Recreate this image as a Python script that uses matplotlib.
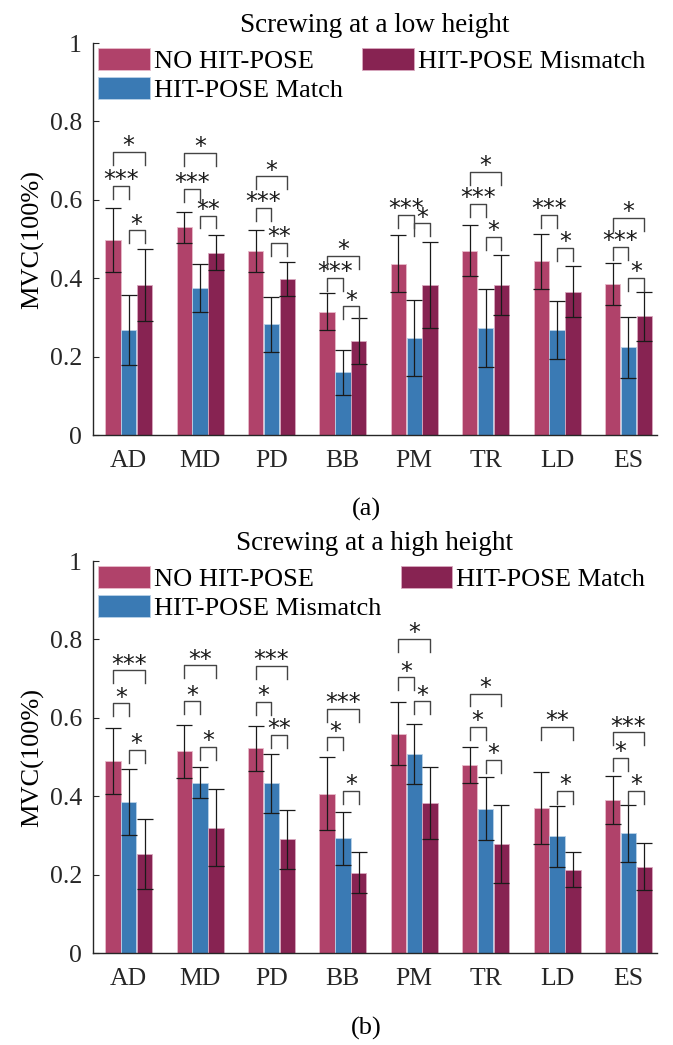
import numpy as np
import matplotlib.pyplot as plt

plt.rcParams['font.family'] = ['Liberation Serif', 'DejaVu Serif']

muscles = ['AD', 'MD', 'PD', 'BB', 'PM', 'TR', 'LD', 'ES']

# (a) screwing at a low height
low_no = [0.497, 0.530, 0.470, 0.315, 0.437, 0.470, 0.443, 0.385]
low_no_sd = [0.082, 0.040, 0.053, 0.047, 0.073, 0.065, 0.070, 0.054]
low_match = [0.268, 0.375, 0.283, 0.160, 0.248, 0.273, 0.268, 0.224]
low_match_sd = [0.090, 0.061, 0.070, 0.057, 0.097, 0.100, 0.075, 0.078]
low_mis = [0.383, 0.465, 0.398, 0.240, 0.383, 0.383, 0.366, 0.303]
low_mis_sd = [0.092, 0.045, 0.043, 0.058, 0.109, 0.077, 0.065, 0.063]

# (b) screwing at a high height
high_no = [0.490, 0.515, 0.522, 0.407, 0.560, 0.480, 0.370, 0.390]
high_no_sd = [0.085, 0.068, 0.057, 0.093, 0.080, 0.045, 0.093, 0.062]
high_mis = [0.385, 0.435, 0.433, 0.293, 0.508, 0.368, 0.298, 0.305]
high_mis_sd = [0.085, 0.040, 0.075, 0.068, 0.077, 0.080, 0.078, 0.073]
high_match = [0.253, 0.320, 0.290, 0.205, 0.383, 0.278, 0.213, 0.220]
high_match_sd = [0.090, 0.098, 0.075, 0.052, 0.092, 0.100, 0.045, 0.060]

# significance brackets: (muscle, bar a, bar b, bracket height, stars)
sig_low = [(0, 0, 1, 0.636, '***'), (0, 0, 2, 0.722, '*'), (0, 1, 2, 0.522, '*'),
           (1, 0, 1, 0.628, '***'), (1, 0, 2, 0.720, '*'), (1, 1, 2, 0.560, '**'),
           (2, 0, 1, 0.580, '***'), (2, 0, 2, 0.660, '*'), (2, 1, 2, 0.490, '**'),
           (3, 0, 1, 0.400, '***'), (3, 0, 2, 0.457, '*'), (3, 1, 2, 0.328, '*'),
           (4, 0, 1, 0.562, '***'), (4, 1, 2, 0.540, '*'),
           (5, 0, 1, 0.590, '***'), (5, 0, 2, 0.672, '*'), (5, 1, 2, 0.506, '*'),
           (6, 0, 1, 0.562, '***'), (6, 1, 2, 0.477, '*'),
           (7, 0, 1, 0.480, '***'), (7, 0, 2, 0.553, '*'), (7, 1, 2, 0.400, '*')]
sig_high = [(0, 0, 1, 0.637, '*'), (0, 0, 2, 0.721, '***'), (0, 1, 2, 0.518, '*'),
            (1, 0, 1, 0.642, '*'), (1, 0, 2, 0.734, '**'), (1, 1, 2, 0.525, '*'),
            (2, 0, 1, 0.640, '*'), (2, 0, 2, 0.733, '***'), (2, 1, 2, 0.556, '**'),
            (3, 0, 1, 0.550, '*'), (3, 0, 2, 0.622, '***'), (3, 1, 2, 0.414, '*'),
            (4, 0, 1, 0.703, '*'), (4, 0, 2, 0.802, '*'), (4, 1, 2, 0.642, '*'),
            (5, 0, 1, 0.576, '*'), (5, 0, 2, 0.662, '*'), (5, 1, 2, 0.492, '*'),
            (6, 0, 2, 0.576, '**'), (6, 1, 2, 0.414, '*'),
            (7, 0, 1, 0.497, '*'), (7, 0, 2, 0.563, '***'), (7, 1, 2, 0.414, '*')]

colors = ['#b0426a', '#3a7ab4', '#872352']
edges = ['#e8bccb', '#b9d2e8', '#d9a9bf']
offsets = [-0.222, 0.0, 0.222]
bar_w = 0.215

panels = [
    ('Screwing at a low height', '(a)',
     [low_no, low_match, low_mis], [low_no_sd, low_match_sd, low_mis_sd],
     ['NO HIT-POSE', 'HIT-POSE Match', 'HIT-POSE Mismatch'], sig_low),
    ('Screwing at a high height', '(b)',
     [high_no, high_mis, high_match], [high_no_sd, high_mis_sd, high_match_sd],
     ['NO HIT-POSE', 'HIT-POSE Mismatch', 'HIT-POSE Match'], sig_high),
]

fig = plt.figure(figsize=(6.73, 10.45), dpi=100)
ax_rects = [[0.1382, 0.5837, 0.8380, 0.3751], [0.1382, 0.0880, 0.8380, 0.3751]]
panel_label_y = [1 - 516 / 1045, 1 - 1035 / 1045]

x = np.arange(1, len(muscles) + 1)

for k, (title, tag, means, sds, labels, sig) in enumerate(panels):
    ax = fig.add_axes(ax_rects[k])
    handles = []
    for i in range(3):
        b = ax.bar(x + offsets[i], means[i], bar_w, color=colors[i],
                   edgecolor=edges[i], linewidth=0.6, label=labels[i], zorder=2)
        handles.append(b)
        ax.errorbar(x + offsets[i], means[i], yerr=sds[i], fmt='none',
                    ecolor='#1a1a1a', elinewidth=0.9, capsize=6, capthick=0.9, zorder=3)

    # significance brackets
    for g, a, c, h, lab in sig:
        x1 = g + 1 + offsets[a]
        x2 = g + 1 + offsets[c]
        ax.plot([x1, x1, x2, x2], [h - 0.033, h, h, h - 0.033],
                color='#444444', lw=1.0, zorder=3)
        ax.text((x1 + x2) / 2, h - 0.003, lab, ha='center', va='baseline',
                fontsize=17, color='#1a1a1a', family='DejaVu Sans')

    ax.set_xlim(0.5, 8.4)
    ax.set_ylim(0, 1)
    ax.set_xticks(x)
    ax.set_xticklabels(muscles)
    ax.set_yticks([0, 0.2, 0.4, 0.6, 0.8, 1])
    ax.set_yticklabels(['0', '0.2', '0.4', '0.6', '0.8', '1'])
    ax.tick_params(direction='in', length=4, width=0.8, labelsize=18.5, colors='#262626')
    ax.tick_params(axis='x', pad=11)
    ax.tick_params(axis='y', pad=8)
    for s in ['top', 'right']:
        ax.spines[s].set_visible(False)
    for s in ['left', 'bottom']:
        ax.spines[s].set_color('#262626')
        ax.spines[s].set_linewidth(1.0)

    ax.set_title(title, fontsize=19.5, pad=8)
    ax.set_ylabel('MVC(100%)', fontsize=19)
    ax.yaxis.set_label_coords(-0.087, 0.5)

    ax.legend(handles=handles, loc='upper left', bbox_to_anchor=(0, 1), ncol=2,
              frameon=False, fontsize=19, handlelength=1.95, handleheight=0.9,
              handletextpad=0.15, columnspacing=0.75, labelspacing=0.15,
              borderpad=0.1, borderaxespad=0.1)

    fig.text(0.544, panel_label_y[k], tag, ha='center', va='baseline', fontsize=19)

plt.savefig('out.png', dpi=100)
